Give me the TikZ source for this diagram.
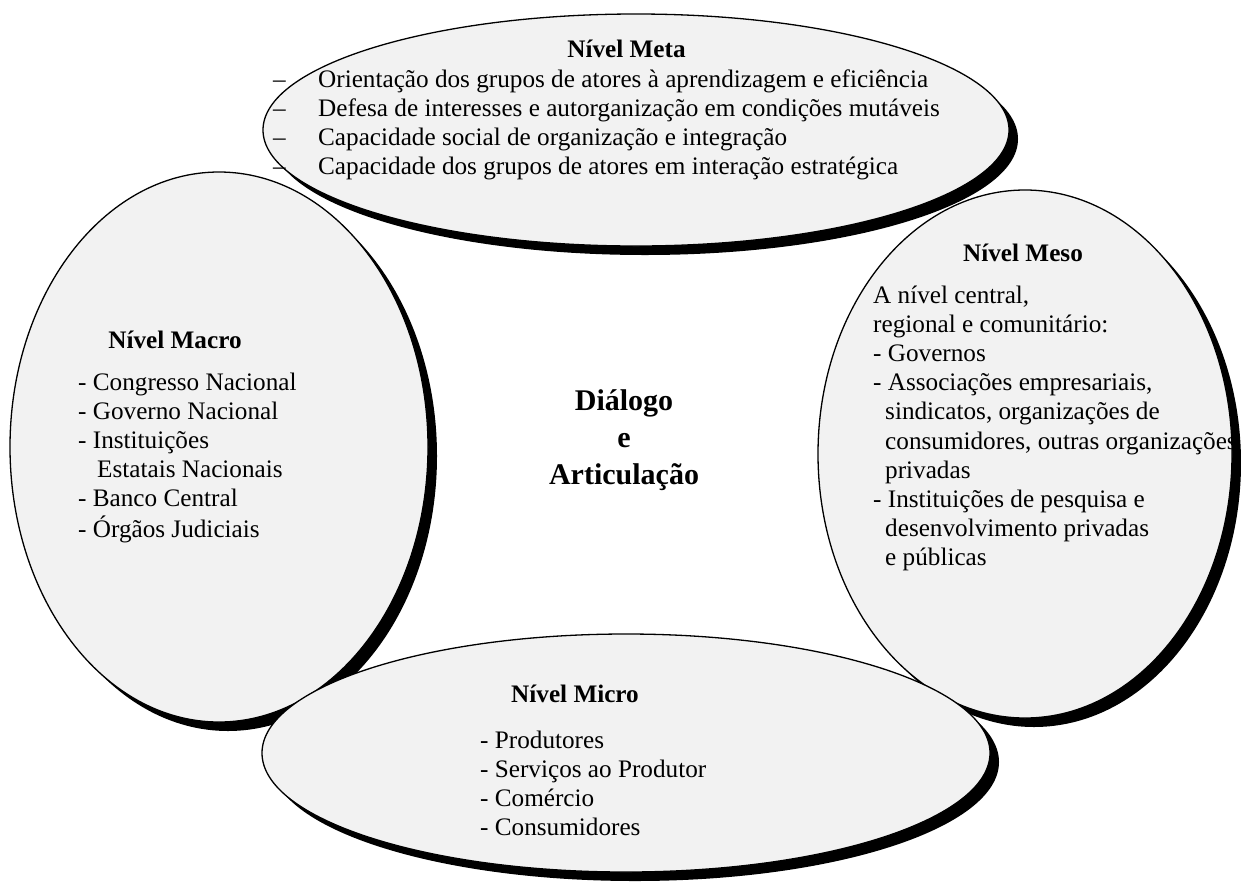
\documentclass[tikz,border=0pt]{standalone}
\usepackage{fontspec}
\setmainfont{Liberation Serif}
\usetikzlibrary{shapes.geometric,shadows}
\definecolor{lvlfill}{HTML}{F2F2F2}
\newcommand\lst[1]{\begin{tabular}[t]{@{}l@{}}#1\end{tabular}}
\newcommand\dd{\makebox[45pt][l]{–}}
\begin{document}
\begin{tikzpicture}[x=1pt,y=-1pt,
  lvl/.style={ellipse, draw=black, line width=1.3pt, fill=lvlfill, inner sep=0pt,
    drop shadow={shadow xshift=9pt, shadow yshift=-9pt, fill=black, opacity=1}},
  txt/.style={inner sep=0pt, anchor=base west, font=\fontsize{25.2}{29.2}\selectfont},
  ttl/.style={inner sep=0pt, anchor=base, font=\fontsize{25.2}{29.2}\selectfont\bfseries},
  ctr/.style={inner sep=0pt, anchor=base, font=\fontsize{30}{37}\selectfont\bfseries}
]
\useasboundingbox (0,0) rectangle (1241,884);
% shapes
\node[lvl, minimum width=746pt, minimum height=232pt] (meta) at (636,130) {};
\node[lvl, minimum width=418pt, minimum height=550pt] (macro) at (219,447) {};
\node[lvl, minimum width=414pt, minimum height=528pt] (meso) at (1025,454) {};
\node[lvl, minimum width=728pt, minimum height=238pt] (micro) at (626,753) {};
% Meta
\node[ttl] (metat) at (626.5,57) {Nível Meta};
\node[txt] (metab) at (273,87) {\lst{\dd Orientação dos grupos de atores à aprendizagem e eficiência\\
\dd Defesa de interesses e autorganização em condições mutáveis\\
\dd Capacidade social de organização e integração\\
\dd Capacidade dos grupos de atores em interação estratégica}};
% Macro
\node[ttl] (macrot) at (175,348) {Nível Macro};
\node[txt] (macrob) at (78,390) {\lst{- Congresso Nacional\\
- Governo Nacional\\
- Instituições\\
\hspace*{19pt}Estatais Nacionais\\
- Banco Central\\
- Órgãos Judiciais}};
% Meso
\node[ttl] (mesot) at (1023,261) {Nível Meso};
\node[txt] (mesob) at (873,303) {\lst{A nível central,\\
regional e comunitário:\\
- Governos\\
- Associações empresariais,\\
\hspace*{12pt}sindicatos, organizações de\\
\hspace*{12pt}consumidores, outras organizações\\
\hspace*{12pt}privadas\\
- Instituições de pesquisa e\\
\hspace*{12pt}desenvolvimento privadas\\
\hspace*{12pt}e públicas}};
% Micro
\node[ttl] (microt) at (575,702) {Nível Micro};
\node[txt] (microb) at (480,748) {\lst{- Produtores\\
- Serviços ao Produtor\\
- Comércio\\
- Consumidores}};
% centre
\node[ctr] (dialogo) at (624,410) {\begin{tabular}[t]{@{}c@{}}Diálogo\\ e\\ Articulação\end{tabular}};
\end{tikzpicture}
\end{document}
